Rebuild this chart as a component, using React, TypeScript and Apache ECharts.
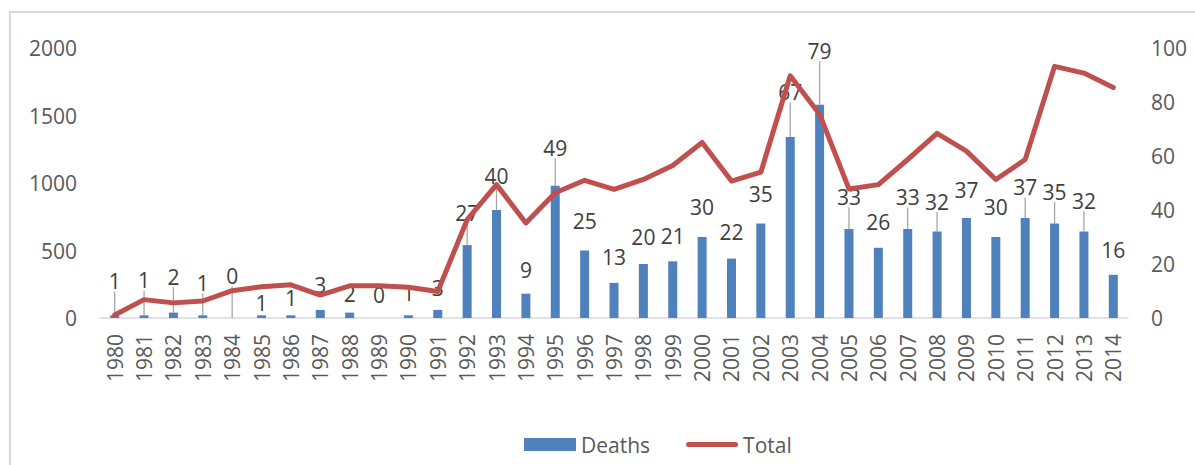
import React, { useEffect, useRef } from "react";
import * as echarts from "echarts";

const years = [
  "1980", "1981", "1982", "1983", "1984", "1985", "1986", "1987", "1988", "1989",
  "1990", "1991", "1992", "1993", "1994", "1995", "1996", "1997", "1998", "1999",
  "2000", "2001", "2002", "2003", "2004", "2005", "2006", "2007", "2008", "2009",
  "2010", "2011", "2012", "2013", "2014",
];

const deaths = [
  1, 1, 2, 1, 0, 1, 1, 3, 2, 0,
  1, 3, 27, 40, 9, 49, 25, 13, 20, 21,
  30, 22, 35, 67, 79, 33, 26, 33, 32, 37,
  30, 37, 35, 32, 16,
];

const total = [
  22, 136, 112, 126, 202, 232, 246, 170, 238, 238,
  228, 196, 728, 988, 704, 928, 1020, 952, 1026, 1130,
  1300, 1014, 1080, 1794, 1510, 956, 988, 1174, 1368, 1236,
  1026, 1174, 1864, 1814, 1708,
];

const leftTicks = { min: 0, max: 2000, interval: 500 };
const rightTicks = { min: 0, max: 100, interval: 20 };

// years whose data label carries a leader line
const leaderYears = [
  "1980", "1981", "1982", "1983", "1984", "1992", "1993", "1995", "2003", "2004",
  "2005", "2007", "2008", "2011", "2012", "2013",
];

// style: how far (px) each data label's centre sits above its bar top
const labelGap = [
  34, 35, 36, 32, 42, 12, 17, 25, 19, 23,
  22, 22, 32, 34, 24, 38, 30, 26, 27, 25,
  30, 27, 30, 45, 54, 32, 26, 32, 30, 28,
  30, 31, 32, 31, 25,
];

const FONT = "'Open Sans', 'Liberation Sans', sans-serif";
const FS = 21;

export default function App() {
  const ref = useRef<HTMLDivElement>(null);

  useEffect(() => {
    if (!ref.current) return;
    const chart = echarts.init(ref.current, undefined, { renderer: "svg" });
    const option: any = {
      animation: false,
      textStyle: { fontFamily: FONT },
      graphic: [
        {
          type: "rect",
          shape: { x: 10, y: 12, width: 1400, height: 700 },
          style: { fill: "none", stroke: "#d9d9d9", lineWidth: 2 },
          silent: true,
          z: -10,
        },
      ],
      grid: { left: 100, right: 67, top: 48, bottom: 147, containLabel: false },
      legend: {
        left: 519,
        top: 429,
        itemWidth: 52,
        itemHeight: 13,
        itemGap: 36,
        textStyle: { fontSize: FS, color: "#595959", fontFamily: FONT },
        data: [
          { name: "Deaths", icon: "rect" },
          {
            name: "Total",
            icon: "path://M2.5,0 L49.5,0 A2.5,2.5 0 0 1 49.5,5 L2.5,5 A2.5,2.5 0 0 1 2.5,0 Z",
            itemStyle: { color: "#c0504d" },
          },
        ],
      },
      xAxis: {
        type: "category",
        data: years,
        boundaryGap: true,
        axisLine: { show: true, lineStyle: { color: "#d9d9d9", width: 1.5 } },
        axisTick: { show: false },
        axisLabel: {
          rotate: 90,
          margin: 16,
          interval: 0,
          fontSize: FS,
          color: "#595959",
          fontFamily: FONT,
        },
        splitLine: { show: false },
      },
      yAxis: [
        {
          type: "value",
          position: "left",
          min: leftTicks.min,
          max: leftTicks.max,
          interval: leftTicks.interval,
          axisLine: { show: false },
          axisTick: { show: false },
          splitLine: { show: false },
          axisLabel: {
            fontSize: FS,
            color: "#595959",
            margin: 23,
            fontFamily: FONT,
            formatter: (v: number) => String(v),
          },
        },
        {
          type: "value",
          position: "right",
          min: rightTicks.min,
          max: rightTicks.max,
          interval: rightTicks.interval,
          axisLine: { show: false },
          axisTick: { show: false },
          splitLine: { show: false },
          axisLabel: {
            fontSize: FS,
            color: "#595959",
            margin: 23,
            fontFamily: FONT,
            formatter: (v: number) => String(v),
          },
        },
      ],
      series: [
        {
          name: "Deaths",
          type: "bar",
          yAxisIndex: 1,
          barWidth: 9,
          itemStyle: { color: "#4f81bd" },
          data: deaths.map((v, i) => ({
            value: v,
            labelLine: { show: leaderYears.includes(years[i]) },
          })),
          label: {
            show: true,
            position: "top",
            distance: 0,
            fontSize: FS,
            lineHeight: 20,
            color: "#404040",
            fontFamily: FONT,
          },
          labelLine: { show: true, lineStyle: { color: "#a6a6a6", width: 1.3 } },
          labelLayout: (p: any) => ({ dy: -(labelGap[p.dataIndex] - 10) }),
          z: 2,
        },
        {
          name: "Total",
          type: "line",
          yAxisIndex: 0,
          data: total,
          symbol: "none",
          showSymbol: false,
          lineStyle: { color: "#c0504d", width: 5, join: "round", cap: "round" },
          itemStyle: { color: "#c0504d" },
          z: 3,
        },
      ],
    };
    chart.setOption(option);
    return () => chart.dispose();
  }, []);

  return (
    <div
      ref={ref}
      style={{ position: "fixed", left: 0, top: 0, width: 1195, height: 465, background: "#fff" }}
    />
  );
}
